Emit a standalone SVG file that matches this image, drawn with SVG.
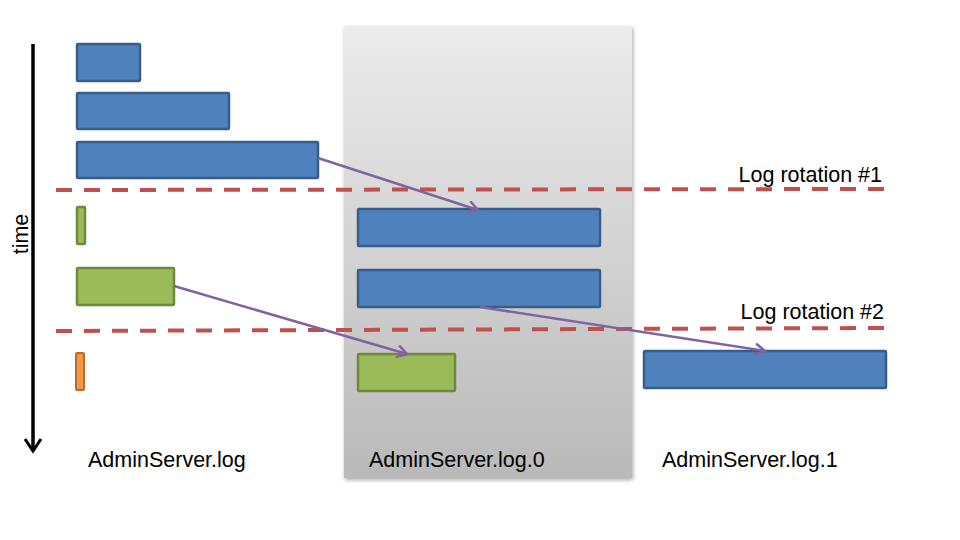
<svg xmlns="http://www.w3.org/2000/svg" width="960" height="540" viewBox="0 0 960 540">
<defs>
<linearGradient id="panelGrad" x1="0" y1="0" x2="0" y2="1">
<stop offset="0" stop-color="#ececec"/>
<stop offset="1" stop-color="#b9b9b9"/>
</linearGradient>
<filter id="shadow" x="-5%" y="-5%" width="115%" height="115%">
<feGaussianBlur in="SourceAlpha" stdDeviation="2"/>
<feOffset dx="1" dy="2"/>
<feComponentTransfer><feFuncA type="linear" slope="0.35"/></feComponentTransfer>
<feMerge><feMergeNode/><feMergeNode in="SourceGraphic"/></feMerge>
</filter>
<marker id="vhead" markerWidth="14" markerHeight="14" refX="11" refY="7" orient="auto" markerUnits="userSpaceOnUse">
<path d="M1,1 L11,7 L1,13" fill="none" stroke="#8064a2" stroke-width="2.5" stroke-linejoin="miter"/>
</marker>
<marker id="timehead" markerWidth="20" markerHeight="20" refX="15" refY="10" orient="auto" markerUnits="userSpaceOnUse">
<path d="M3,2 L15,10 L3,18" fill="none" stroke="#000" stroke-width="3"/>
</marker>
</defs>
<style>
.blue{fill:#4f81bd;stroke:#385d8a;stroke-width:2.5}
.green{fill:#9bbb59;stroke:#71893f;stroke-width:2.5}
.orange{fill:#f79646;stroke:#b66d31;stroke-width:2}
.dash{stroke:#c0504d;stroke-width:4;stroke-dasharray:16 12;fill:none}
.conn{stroke:#8064a2;stroke-width:2.5;fill:none;marker-end:url(#vhead)}
.lbl{font-family:"Liberation Sans",Arial,sans-serif;font-size:21.5px;fill:#000}
</style>
<rect id="panel" x="344" y="26" width="288" height="452" fill="url(#panelGrad)" filter="url(#shadow)"/>
<g id="timeline">
<line x1="33" y1="44" x2="33" y2="451" stroke="#000" stroke-width="3.5" marker-end="url(#timehead)"/>
<text class="lbl" transform="translate(28,234) rotate(-90)" text-anchor="middle">time</text>
</g>
<g id="rotation-lines">
<line class="dash" x1="56" y1="190" x2="884" y2="189"/>
<line class="dash" x1="56" y1="331" x2="884" y2="328"/>
<text class="lbl" x="882" y="182" text-anchor="end">Log rotation #1</text>
<text class="lbl" x="884" y="319" text-anchor="end">Log rotation #2</text>
</g>
<g id="log-blocks">
<rect id="b1" class="blue" x="77" y="44" width="63" height="37" rx="1"/>
<rect id="b2" class="blue" x="77" y="93" width="152" height="36" rx="1"/>
<rect id="b3" class="blue" x="77" y="142" width="241" height="36" rx="1"/>
<rect id="g1" class="green" x="77" y="207" width="8" height="37" rx="1"/>
<rect id="g2" class="green" x="77" y="268" width="97" height="37" rx="1"/>
<rect id="o1" class="orange" x="76" y="353" width="8" height="37" rx="1"/>
<rect id="b4" class="blue" x="358" y="209" width="242" height="37" rx="1"/>
<rect id="b5" class="blue" x="358" y="270" width="242" height="37" rx="1"/>
<rect id="g3" class="green" x="358" y="354" width="97" height="37" rx="1"/>
<rect id="b6" class="blue" x="644" y="351" width="242" height="37" rx="1"/>
</g>
<g id="connectors">
<line class="conn" x1="318" y1="158" x2="478" y2="210"/>
<line class="conn" x1="174" y1="286" x2="407" y2="354"/>
<line class="conn" x1="480" y1="307" x2="765" y2="351"/>
</g>
<g id="file-labels">
<text class="lbl" x="88" y="467">AdminServer.log</text>
<text class="lbl" x="369" y="467">AdminServer.log.0</text>
<text class="lbl" x="662" y="467">AdminServer.log.1</text>
</g>
</svg>
